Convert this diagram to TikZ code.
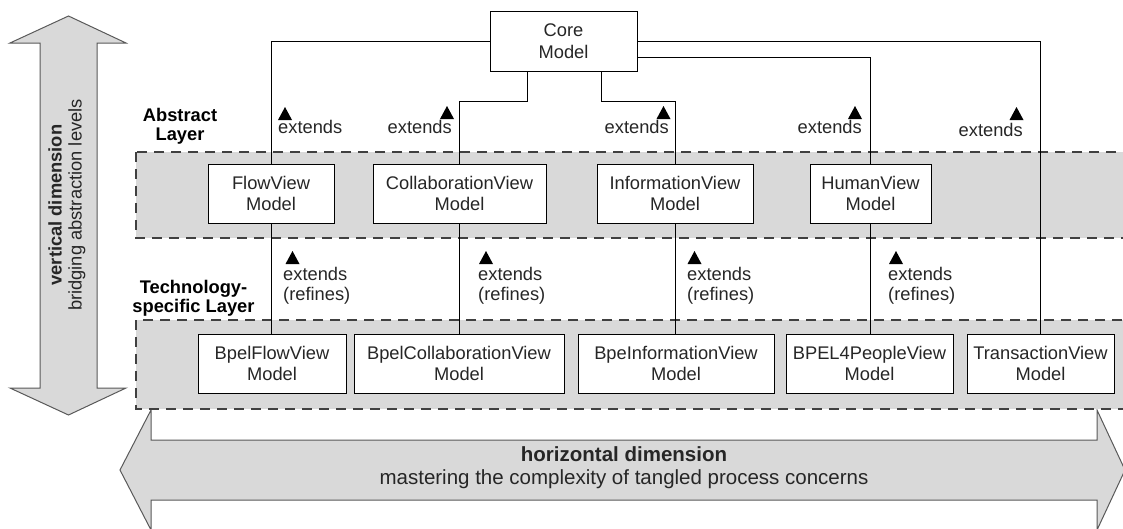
\documentclass[tikz,border=0pt]{standalone}
\usepackage{fontspec}
\setmainfont{Liberation Sans}
\usetikzlibrary{arrows}

\newcommand{\uptri}[1]{\fill (#1) +(-7,0) -- +(7,0) -- +(0,-13) -- cycle;}

\begin{document}
\begin{tikzpicture}[x=1pt,y=-1pt,
	model/.style={draw,fill=white,line width=1pt,minimum height=59pt,align=center,inner sep=0pt,text=black!85,font={\fontsize{18.3}{21.5}\selectfont}},
	lbl/.style={inner sep=0pt,align=left,text=black!85,font={\fontsize{18.3}{20}\selectfont}},
	layertxt/.style={inner sep=0pt,align=center,font={\bfseries\fontsize{18.3}{19}\selectfont}},
	layer/.style={fill=gray!30,draw=black!75,line width=1.6pt,dash pattern=on 10pt off 7pt},
	dimarrow/.style={fill=gray!30,draw=black!65,line width=1pt},
	conn/.style={line width=0.9pt}]
			\useasboundingbox (0,0) rectangle (1123,528);
			
			\draw[dimarrow] (68.5,16) -- (126,43) -- (97,43) -- (97,388) -- (126,388) -- (68.5,415) -- (10,388) -- (40,388) -- (40,43) -- (10,43) -- cycle;
			\node[inner sep=0pt,align=center,rotate=90,text=black!85,font={\fontsize{18.3}{20}\selectfont}] (vdim) at (67,205) {\textbf{vertical dimension}\\bridging abstraction levels};
			
			\draw[dimarrow] (120,470) -- (151,410) -- (151,440) -- (1097,440) -- (1097,410) -- (1125,470) -- (1097,530) -- (1097,500) -- (151,500) -- (151,530) -- cycle;
			\node[inner sep=0pt,align=center,text=black!85,font={\fontsize{20.5}{23}\selectfont}] (hdim) at (624,468) {\textbf{horizontal dimension}\\mastering the complexity of tangled process concerns};
			
			\draw[layer] (136,152) rectangle (1135,238);
			\draw[layer] (136,320) rectangle (1135,409);
			\node[layertxt] (abstr) at (180,126) {Abstract\\Layer};
			\node[layertxt] (techn) at (193.5,298) {Technology-\\specific Layer};
			
			\node[model,minimum width=147pt,minimum height=60pt] (core) at (563.5,41) {Core\\Model};
			
			\node[model,minimum width=126pt] (flow) at (271,193.5) {FlowView\\Model};
			\node[model,minimum width=173pt] (collab) at (459.5,193.5) {CollaborationView\\Model};
			\node[model,minimum width=156pt] (info) at (675,193.5) {InformationView\\Model};
			\node[model,minimum width=121pt] (human) at (870.5,193.5) {HumanView\\Model};
			
			\node[model,minimum width=148pt] (bflow) at (272,363.5) {BpelFlowView\\Model};
			\node[model,minimum width=210pt] (bcollab) at (459,363.5) {BpelCollaborationView\\Model};
			\node[model,minimum width=196pt] (binfo) at (676,363.5) {BpeInformationView\\Model};
			\node[model,minimum width=167pt] (bpeople) at (869.5,363.5) {BPEL4PeopleView\\Model};
			\node[model,minimum width=147pt] (trans) at (1040.5,363.5) {TransactionView\\Model};
			
			\draw[conn] (core.west) -| (flow.north);
			\draw[conn] (core.east) -| (trans.north);
			\draw[conn] (core.east) ++(0,16) -| (human.north);
			\draw[conn] ([xshift=-36.5pt]core.south) -- ++(0,30) -| (collab.north);
			\draw[conn] ([xshift=37.5pt]core.south) -- ++(0,30) -| (info.north);
			
			\draw[conn] (flow.south) -- (flow.south |- bflow.north);
			\draw[conn] (collab.south) -- (collab.south |- bcollab.north);
			\draw[conn] (info.south) -- (info.south |- binfo.north);
			\draw[conn] (human.south) -- (human.south |- bpeople.north);
			
			\node[lbl,anchor=base west] (ext1) at (278,133) {extends}; \uptri{285,120}
			\node[lbl,anchor=base east] (ext2) at (452,133) {extends}; \uptri{447,119}
			\node[lbl,anchor=base east] (ext3) at (669,133) {extends}; \uptri{663.5,119}
			\node[lbl,anchor=base east] (ext4) at (862,133) {extends}; \uptri{855,119}
			\node[lbl,anchor=base east] (ext5) at (1023,136) {extends}; \uptri{1016.5,120}
			
			\node[lbl,anchor=base west] (ref1) at (283,300) {extends\\(refines)}; \uptri{292.5,264}
			\node[lbl,anchor=base west] (ref2) at (478,300) {extends\\(refines)}; \uptri{486,264}
			\node[lbl,anchor=base west] (ref3) at (687,300) {extends\\(refines)}; \uptri{694.5,264}
			\node[lbl,anchor=base west] (ref4) at (888,300) {extends\\(refines)}; \uptri{896,264}
\end{tikzpicture}
\end{document}
